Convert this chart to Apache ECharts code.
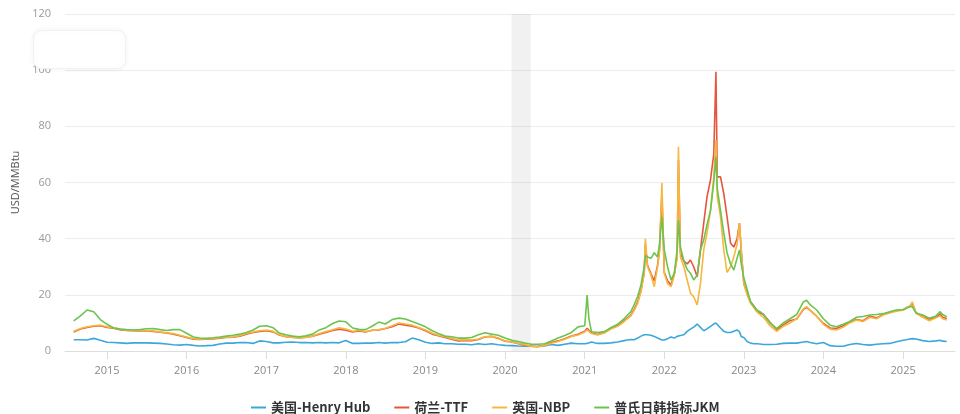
<!DOCTYPE html>
<html>
<head>
<meta charset="utf-8">
<script src="https://cdn.jsdelivr.net/npm/echarts@6/dist/echarts.min.js"></script>
<style>
  html, body { margin: 0; padding: 0; background: #fff; }
  #chart { width: 960px; height: 414px; }
</style>
</head>
<body>
<div id="chart"></div>
<script>
// Observation dates (monthly, denser around the 2021-2022 price spikes)
const dates = [
  '2014-08-01','2014-09-01','2014-10-01','2014-11-01','2014-12-01',
  '2015-01-01','2015-02-01','2015-03-01','2015-04-01','2015-05-01','2015-06-01','2015-07-01','2015-08-01','2015-09-01','2015-10-01','2015-11-01','2015-12-01',
  '2016-01-01','2016-02-01','2016-03-01','2016-04-01','2016-05-01','2016-06-01','2016-07-01','2016-08-01','2016-09-01','2016-10-01','2016-11-01','2016-12-01',
  '2017-01-01','2017-02-01','2017-03-01','2017-04-01','2017-05-01','2017-06-01','2017-07-01','2017-08-01','2017-09-01','2017-10-01','2017-11-01','2017-12-01',
  '2018-01-01','2018-02-01','2018-03-01','2018-04-01','2018-05-01','2018-06-01','2018-07-01','2018-08-01','2018-09-01','2018-10-01','2018-11-01','2018-12-01',
  '2019-01-01','2019-02-01','2019-03-01','2019-04-01','2019-05-01','2019-06-01','2019-07-01','2019-08-01','2019-09-01','2019-10-01','2019-11-01','2019-12-01',
  '2020-01-01','2020-02-01','2020-03-01','2020-04-01','2020-05-01','2020-06-01','2020-07-01','2020-08-01','2020-09-01','2020-10-01','2020-11-01','2020-12-01',
  '2021-01-01','2021-01-12','2021-01-20','2021-02-01','2021-03-01','2021-04-01','2021-05-01','2021-06-01','2021-07-01','2021-07-16','2021-08-01','2021-08-16',
  '2021-09-01','2021-09-16','2021-10-01','2021-10-06','2021-10-16','2021-11-01','2021-11-16','2021-12-01','2021-12-10','2021-12-21',
  '2022-01-01','2022-01-16','2022-02-01','2022-02-16','2022-03-01','2022-03-07','2022-03-16','2022-04-01','2022-04-16','2022-05-01','2022-05-16','2022-06-01','2022-06-16',
  '2022-07-01','2022-07-16','2022-08-01','2022-08-16','2022-08-26','2022-09-01','2022-09-16','2022-10-01','2022-10-16','2022-11-01','2022-11-16','2022-12-01','2022-12-12','2022-12-20',
  '2023-01-01','2023-01-16','2023-02-01','2023-02-16','2023-03-01','2023-03-16','2023-04-01','2023-05-01','2023-06-01','2023-07-01','2023-08-01','2023-09-01','2023-10-01','2023-10-16','2023-11-01','2023-12-01',
  '2024-01-01','2024-02-01','2024-03-01','2024-04-01','2024-05-01','2024-06-01','2024-07-01','2024-08-01','2024-09-01','2024-10-01','2024-11-01','2024-12-01',
  '2025-01-01','2025-01-16','2025-02-01','2025-02-12','2025-03-01','2025-04-01','2025-05-01','2025-06-01','2025-06-20','2025-07-01','2025-07-20'
];

// 美国-Henry Hub, USD/MMBtu
const henryHub = [
  4.0, 4.0, 3.9, 4.5, 3.8,
  3.1, 3.0, 2.9, 2.7, 2.9, 2.9, 2.9, 2.8, 2.7, 2.5, 2.2, 2.1,
  2.3, 2.0, 1.8, 1.9, 2.0, 2.5, 2.8, 2.8, 3.0, 3.0, 2.7, 3.6,
  3.4, 2.9, 2.9, 3.1, 3.2, 3.0, 3.0, 2.9, 3.0, 2.9, 3.0, 2.9,
  3.7, 2.7, 2.7, 2.8, 2.8, 3.0, 2.8, 3.0, 3.0, 3.3, 4.6, 4.0,
  3.1, 2.7, 2.9, 2.6, 2.6, 2.4, 2.4, 2.2, 2.6, 2.3, 2.6, 2.2,
  2.0, 1.9, 1.8, 1.7, 1.7, 1.6, 1.8, 2.3, 2.0, 2.4, 2.8, 2.6,
  2.6, 2.7, 2.6, 3.2, 2.7, 2.7, 2.9, 3.2, 3.7, 3.9, 4.1, 4.0,
  4.6, 5.3, 5.8, 6.4, 5.8, 5.6, 5.2, 4.6, 4.0, 3.9,
  3.9, 4.4, 5.0, 4.6, 5.2, 4.8, 5.5, 5.8, 7.0, 7.8, 8.5, 9.6, 8.4,
  7.2, 7.9, 8.8, 9.6, 10.0, 9.3, 8.2, 7.0, 6.6, 6.6, 7.0, 7.5, 6.8, 5.2,
  4.8, 3.4, 2.8, 2.6, 2.6, 2.5, 2.3, 2.3, 2.4, 2.7, 2.8, 2.8, 3.2, 3.4, 3.0, 2.6,
  3.0, 1.9, 1.7, 1.7, 2.3, 2.7, 2.3, 2.1, 2.4, 2.6, 2.7, 3.3,
  3.8, 4.0, 4.3, 4.4, 4.3, 3.7, 3.4, 3.6, 3.8, 3.5, 3.4
];

// 荷兰-TTF
const ttf = [
  6.8, 7.8, 8.4, 8.8, 9.0,
  8.4, 8.1, 7.6, 7.3, 7.2, 7.1, 7.2, 7.0, 6.7, 6.4, 6.0, 5.4,
  4.8, 4.2, 4.1, 4.2, 4.3, 4.6, 4.8, 4.9, 5.3, 6.0, 6.6, 7.0,
  7.2, 6.8, 5.7, 5.1, 4.9, 4.7, 4.9, 5.3, 6.0, 6.6, 7.3, 7.8,
  7.4, 6.8, 7.1, 6.8, 7.4, 7.5, 8.0, 8.6, 9.6, 9.2, 8.8, 8.2,
  7.2, 6.0, 5.4, 4.8, 4.2, 3.6, 3.8, 3.7, 4.1, 5.0, 5.2, 4.5,
  3.5, 3.2, 2.7, 2.0, 1.7, 1.6, 2.1, 3.0, 3.6, 4.4, 5.3, 6.0,
  7.0, 8.1, 7.6, 6.4, 5.9, 6.6, 8.2, 9.0, 10.8, 11.8, 12.8, 14.8,
  17.5, 21.5, 28.0, 38.0, 30.5, 27.5, 25.0, 30.5, 36.0, 56.0,
  28.0, 25.0, 23.5, 27.5, 34.0, 68.0, 35.0, 32.0, 31.0, 32.4, 30.0, 26.4, 36.0,
  45.5, 54.9, 60.9, 70.0, 99.4, 62.0, 62.0, 56.0, 47.8, 38.4, 37.0, 40.0, 45.5, 36.0,
  24.0, 20.5, 17.5, 16.0, 14.6, 13.5, 13.0, 10.2, 7.6, 9.3, 10.8, 11.4, 14.8, 15.5, 14.5, 12.4,
  9.8, 8.2, 8.0, 9.0, 10.3, 11.2, 10.8, 12.4, 11.8, 13.0, 13.8, 14.4,
  14.6, 15.4, 15.9, 17.0, 13.6, 12.2, 11.3, 12.0, 13.2, 12.0, 11.6
];

// 英国-NBP
const nbp = [
  7.0, 8.0, 8.6, 9.0, 9.2,
  8.6, 8.3, 7.8, 7.4, 7.3, 7.2, 7.3, 7.1, 6.8, 6.5, 6.2, 5.6,
  5.0, 4.4, 4.2, 4.3, 4.4, 4.7, 4.9, 5.0, 5.4, 6.2, 6.8, 7.2,
  7.5, 7.0, 5.8, 5.2, 4.8, 4.6, 4.8, 5.3, 6.2, 6.9, 7.6, 8.3,
  7.8, 7.0, 7.4, 6.9, 7.3, 7.6, 8.1, 9.0, 10.0, 9.6, 9.2, 8.4,
  7.5, 6.3, 5.6, 5.1, 4.5, 3.9, 4.0, 3.9, 4.3, 5.1, 5.2, 4.6,
  3.6, 3.3, 2.8, 2.2, 1.6, 1.5, 2.0, 2.8, 3.4, 4.2, 5.2, 5.7,
  6.8, 7.5, 7.2, 6.2, 5.7, 6.4, 7.8, 8.8, 10.5, 11.5, 12.5, 14.5,
  17.0, 21.0, 27.7, 40.0, 30.0, 27.0, 22.9, 30.0, 35.0, 59.8,
  27.7, 24.0, 22.9, 27.0, 33.0, 72.7, 33.5, 30.0, 25.3, 20.6, 19.3, 16.4, 24.0,
  36.0, 42.0, 50.0, 62.0, 75.0, 55.0, 47.8, 36.0, 28.0, 30.0, 33.5, 38.0, 45.5, 36.0,
  24.0, 20.0, 17.0, 15.5, 14.0, 13.0, 12.0, 9.0, 7.0, 8.8, 10.0, 11.5, 15.0, 15.8, 14.5, 12.5,
  9.5, 7.8, 7.5, 8.5, 10.0, 11.0, 10.5, 12.0, 11.5, 12.8, 13.5, 14.2,
  14.5, 15.5, 15.8, 17.5, 13.5, 12.0, 10.8, 11.8, 12.5, 11.5, 11.0
];

// 普氏日韩指标JKM
const jkm = [
  10.7, 12.5, 14.6, 14.0, 11.2,
  9.5, 8.2, 7.8, 7.6, 7.5, 7.6, 7.9, 8.0, 7.6, 7.3, 7.6, 7.6,
  6.3, 5.0, 4.6, 4.5, 4.7, 5.0, 5.3, 5.6, 6.0, 6.6, 7.5, 8.8,
  9.0, 8.3, 6.4, 5.8, 5.3, 5.1, 5.4, 6.0, 7.5, 8.3, 9.8, 10.7,
  10.4, 8.2, 7.7, 7.6, 8.8, 10.3, 9.6, 11.2, 11.7, 11.4, 10.5, 9.6,
  8.6, 7.2, 6.2, 5.3, 5.1, 4.6, 4.6, 4.8, 5.8, 6.5, 6.0, 5.6,
  4.6, 3.8, 3.4, 2.8, 2.4, 2.4, 2.6, 3.6, 4.6, 5.5, 6.6, 8.6,
  9.0, 19.9, 11.5, 6.8, 6.6, 6.9, 8.3, 9.5, 11.5, 12.8, 14.0, 16.5,
  19.5, 23.5, 30.0, 34.0, 33.5, 33.0, 35.0, 33.5, 38.0, 47.8,
  36.0, 30.0, 25.3, 27.7, 36.0, 46.6, 37.0, 32.0, 29.0, 27.7, 25.3, 27.0, 36.0,
  39.5, 45.0, 50.0, 60.0, 69.2, 58.0, 50.0, 42.0, 35.0, 31.0, 28.8, 33.0, 36.0, 31.0,
  26.0, 22.0, 17.5, 15.8, 14.6, 14.0, 13.0, 10.0, 8.0, 10.0, 11.5, 13.0, 17.5, 18.1, 16.5, 14.6,
  11.5, 9.2, 8.6, 9.5, 10.5, 12.0, 12.3, 12.8, 13.0, 13.3, 14.0, 14.6,
  14.8, 15.2, 15.8, 15.8, 13.5, 12.8, 11.7, 12.5, 14.0, 13.0, 12.2
];

// Shaded period on the time axis
const shadedPeriod = ['2020-01-31', '2020-04-28'];

const yTicks = { min: 0, max: 120, interval: 20 };

const seriesNames = ['美国-Henry Hub', '荷兰-TTF', '英国-NBP', '普氏日韩指标JKM'];
const seriesValues = [henryHub, ttf, nbp, jkm];
const seriesColors = ['#3ba7da', '#e6553d', '#f6b73f', '#6cc44f'];

const pair = (arr) => dates.map((d, i) => [d, arr[i]]);

const series = seriesNames.map((name, k) => ({
  name: name,
  type: 'line',
  data: pair(seriesValues[k]),
  showSymbol: false,
  symbol: 'none',
  lineStyle: { width: 1.6, color: seriesColors[k] },
  itemStyle: { color: seriesColors[k] },
  z: 2 + k
}));

series[0].markArea = {
  silent: true,
  itemStyle: { color: 'rgba(0,0,0,0.055)' },
  data: [[{ xAxis: shadedPeriod[0] }, { xAxis: shadedPeriod[1] }]]
};

const chart = echarts.init(document.getElementById('chart'), null, { renderer: 'canvas' });
const YEAR_MS = 365.25 * 24 * 3600 * 1000;

chart.setOption({
  animation: false,
  backgroundColor: '#ffffff',
  textStyle: { fontFamily: '"Open Sans", "Noto Sans CJK SC", sans-serif' },
  grid: { left: 65, right: 5, top: 14, bottom: 63 },
  graphic: [{
    type: 'rect',
    left: 33, top: 30,
    shape: { width: 92, height: 38, r: 8 },
    style: { fill: '#ffffff', stroke: '#f1f1f1', lineWidth: 1, shadowBlur: 6, shadowColor: 'rgba(0,0,0,0.05)' },
    z: 1
  }],
  legend: {
    top: 396,
    left: 246,
    icon: 'rect',
    itemWidth: 15,
    itemHeight: 2,
    itemGap: 24,
    textStyle: { color: '#333', fontSize: 13, fontWeight: 'bold', fontFamily: '"Noto Sans CJK SC", sans-serif' },
    data: seriesNames
  },
  xAxis: {
    type: 'time',
    min: '2014-06-22',
    max: '2025-08-27',
    minInterval: YEAR_MS * 0.99,
    maxInterval: YEAR_MS * 1.01,
    axisLine: { lineStyle: { color: '#dddddd' } },
    axisTick: { show: true, length: 8, lineStyle: { color: '#dddddd' } },
    splitLine: { show: false },
    axisLabel: {
      color: '#888',
      fontSize: 11,
      margin: 14,
      showMinLabel: false,
      showMaxLabel: false,
      formatter: (v) => String(new Date(v).getFullYear())
    }
  },
  yAxis: {
    type: 'value',
    min: yTicks.min,
    max: yTicks.max,
    interval: yTicks.interval,
    name: 'USD/MMBtu',
    nameLocation: 'middle',
    nameGap: 44,
    nameTextStyle: { color: '#555', fontSize: 11 },
    axisLine: { show: false },
    axisTick: { show: false },
    axisLabel: { color: '#999', fontSize: 11, margin: 14 },
    splitLine: { lineStyle: { color: '#ececec', width: 1 } }
  },
  series: series
});
</script>
</body>
</html>
